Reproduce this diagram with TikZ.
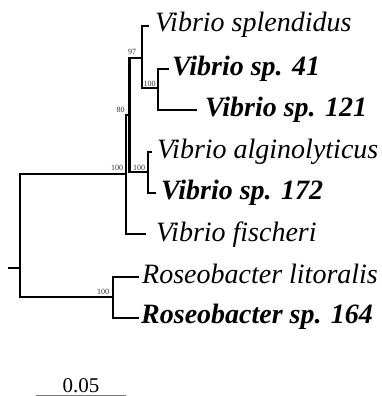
\documentclass[tikz,border=0pt]{standalone}
\usepackage{fontspec}
\setmainfont{Liberation Serif}
\begin{document}
\begin{tikzpicture}[x=1pt,y=-1pt,
  branch/.style={line width=2.9pt,line cap=rect},
  taxon/.style={anchor=base west,inner sep=0pt,font=\fontsize{28}{30}\selectfont\itshape},
  taxonb/.style={anchor=base west,inner sep=0pt,font=\fontsize{28}{30}\selectfont\bfseries\itshape},
  boot/.style={inner sep=0pt,text=black!80,font=\fontsize{8}{9}\selectfont},
  scalelbl/.style={anchor=base,inner sep=0pt,font=\fontsize{21}{22}\selectfont}]
\useasboundingbox (0,0) rectangle (382,396);
% coordinates
\coordinate (stub) at (9,268);
\coordinate (rtop) at (20,174);
\coordinate (rbot) at (20,297);
\coordinate (vtop) at (126,115);
\coordinate (vmid) at (126,174);
\coordinate (vbot) at (126,234);
\coordinate (n80t) at (129.5,58);
\coordinate (n80m) at (129.5,115);
\coordinate (n80b) at (129.5,172);
\coordinate (n97t) at (142,26);
\coordinate (n97m) at (142,58);
\coordinate (n97b) at (142,88);
\coordinate (nat) at (158,69);
\coordinate (nam) at (158,88);
\coordinate (nab) at (158,110);
\coordinate (nbt) at (148,152);
\coordinate (nbm) at (148,172);
\coordinate (nbb) at (148,193);
\coordinate (nrt) at (113,277);
\coordinate (nrm) at (113,297);
\coordinate (nrb) at (113,318);
\coordinate (lsp) at (148,26);
\coordinate (l41) at (168,69);
\coordinate (l121) at (196,110);
\coordinate (lalg) at (151,152);
\coordinate (l172) at (155,193);
\coordinate (lfis) at (145,234);
\coordinate (llit) at (138,277);
\coordinate (l164) at (138,318);
\coordinate (sbl) at (36,395.5);
\coordinate (sbr) at (126,395.5);
% tree
\draw[branch] (stub) -- (rtop |- stub);
\draw[branch] (rtop) -- (rbot);
\draw[branch] (rtop) -- (vmid);
\draw[branch] (vtop) -- (vbot);
\draw[branch] (vbot) -- (lfis);
\draw[branch] (vtop) -- (n80m);
\draw[branch] (n80t) -- (n80b);
\draw[branch] (n80t) -- (n97m);
\draw[branch] (n97t) -- (n97b);
\draw[branch] (n97t) -- (lsp);
\draw[branch] (n97b) -- (nam);
\draw[branch] (nat) -- (nab);
\draw[branch] (nat) -- (l41);
\draw[branch] (nab) -- (l121);
\draw[branch] (n80b) -- (nbm);
\draw[branch] (nbt) -- (nbb);
\draw[branch] (nbt) -- (lalg);
\draw[branch] (nbb) -- (l172);
\draw[branch] (rbot) -- (nrm);
\draw[branch] (nrt) -- (nrb);
\draw[branch] (nrt) -- (llit);
\draw[branch] (nrb) -- (l164);
% taxa
\node[taxon]  (tsp)  at (155,32)  {Vibrio splendidus};
\node[taxonb] (t41)  at (172,75)  {Vibrio sp. 41};
\node[taxonb] (t121) at (205,116) {Vibrio sp. 121};
\node[taxon]  (talg) at (157,158) {Vibrio alginolyticus};
\node[taxonb] (t172) at (161,199) {Vibrio sp. 172};
\node[taxon]  (tfis) at (156,241) {Vibrio fischeri};
\node[taxon]  (tlit) at (142,283) {Roseobacter litoralis};
\node[taxonb] (t164) at (141,323) {Roseobacter sp. 164};
% bootstrap
\node[boot] (b97)  at (132,52)  {97};
\node[boot] (b100a) at (149.5,84) {100};
\node[boot] (b80)  at (120.5,110) {80};
\node[boot] (b100v) at (117,168) {100};
\node[boot] (b100b) at (139,168) {100};
\node[boot] (b100r) at (103,292) {100};
% scale bar
\draw[line width=0.9pt,black!55] (sbl) -- (sbr);
\node[scalelbl] (slbl) at (81,392) {0.05};
\end{tikzpicture}
\end{document}
